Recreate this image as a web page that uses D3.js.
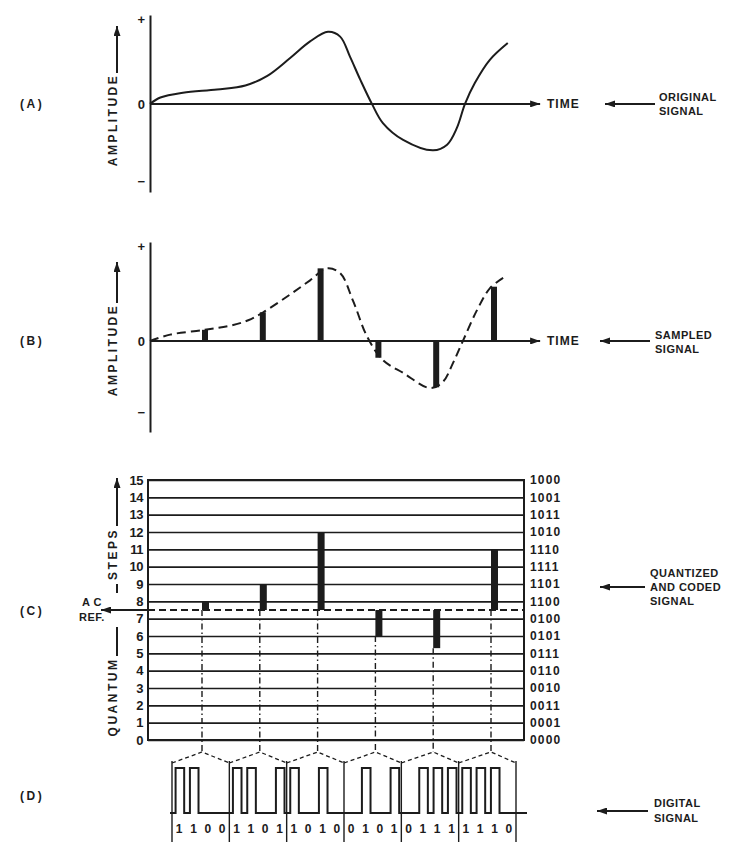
<!DOCTYPE html>
<html>
<head>
<meta charset="utf-8">
<script src="https://cdn.jsdelivr.net/npm/d3@7"></script>
<style>
body { margin: 0; background: #fff; }
svg text { font-family: "Liberation Sans", Arial, sans-serif; font-weight: bold; fill: #1c1c1c; }
</style>
</head>
<body>
<div id="chart"></div>
<script>
// original signal (A): time in sample periods, amplitude -1..1
let origT = [0.10, 0.28, 0.67, 1.26, 1.75, 2.13, 2.52, 2.87, 3.18, 3.39, 3.56, 3.74, 3.94, 4.13, 4.48, 5.00, 5.24, 5.41, 5.55, 5.72, 5.98, 6.29];
let origA = [0, 0.08, 0.14, 0.18, 0.23, 0.35, 0.57, 0.78, 0.90, 0.84, 0.59, 0.30, 0, -0.24, -0.45, -0.58, -0.51, -0.30, 0, 0.26, 0.55, 0.76];

// dashed envelope in (B)
let envT = [0.10, 0.45, 1.05, 1.54, 1.80, 2.06, 2.52, 2.87, 3.16, 3.39, 3.61, 3.86, 4.13, 4.48, 4.95, 5.17, 5.34, 5.52, 5.76, 5.98, 6.21];
let envA = [0, 0.08, 0.14, 0.20, 0.26, 0.36, 0.58, 0.76, 0.91, 0.85, 0.51, 0.05, -0.24, -0.40, -0.59, -0.51, -0.28, 0.01, 0.39, 0.66, 0.79];

// samples
let sampleT = [1, 2, 3, 4, 5, 6];
let sampleA = [0.14, 0.36, 0.91, -0.21, -0.58, 0.68];

// quantized steps (C)
let quantSteps = [8, 9, 12, 6, 5.3, 11];
let acRef = 7.5;
let stepTicks = d3.range(0, 16);
let codeLabels = ["0000", "0001", "0011", "0010", "0110", "0111", "0101", "0100",
                  "1100", "1101", "1111", "1110", "1010", "1011", "1001", "1000"];

// digital words (D)
let words = ["1100", "1101", "1010", "0101", "0111", "1110"];

let ampTickText = ["+", "0", "\u2212"];
let ampTicksA = [1.05, 0, -0.97];
let ampTicksB = [1.18, 0, -0.89];

let ink = "#1c1c1c";

let svg = d3.select("#chart").append("svg")
    .attr("width", 750)
    .attr("height", 842);

svg.append("defs").append("marker")
    .attr("id", "arr")
    .attr("viewBox", "0 0 10 7")
    .attr("refX", 10).attr("refY", 3.5)
    .attr("markerWidth", 10).attr("markerHeight", 7)
    .attr("markerUnits", "userSpaceOnUse")
    .attr("orient", "auto")
  .append("path")
    .attr("d", "M0,0L10,3.5L0,7z")
    .attr("fill", ink);

let x = d3.scaleLinear().domain([0, 6]).range([144.2, 491]);
let timeEnd = 6.85;

let line = function(x1, y1, x2, y2, w, arrow) {
    let l = svg.append("line")
        .attr("x1", x1).attr("y1", y1).attr("x2", x2).attr("y2", y2)
        .attr("stroke", ink).attr("stroke-width", w || 2);
    if (arrow) l.attr("marker-end", "url(#arr)");
    return l;
}

let label = function(tx, ty, str, size, ls, anchor) {
    return svg.append("text")
        .attr("x", tx).attr("y", ty)
        .attr("text-anchor", anchor || "start")
        .style("font-size", (size || 11) + "px")
        .style("letter-spacing", (ls || 0.5) + "px")
        .text(str);
}

let vlabel = function(cx, cy, str) {
    svg.append("text")
        .attr("transform", "translate(" + (cx + 4) + "," + cy + ") rotate(-90)")
        .attr("text-anchor", "middle")
        .style("font-size", "12px")
        .style("letter-spacing", "2.5px")
        .text(str);
}

let ampAxis = function(y, vals) {
    let g = svg.append("g").attr("transform", "translate(150,0)");
    g.call(d3.axisLeft(y).tickValues(vals).tickSize(0).tickPadding(5)
        .tickFormat(function(d, i) { return ampTickText[i]; }));
    g.select(".domain").attr("stroke", ink).attr("stroke-width", 2);
    g.selectAll("text").style("font-size", "13px");
}

// ---------- (A) original signal
let yA = d3.scaleLinear().domain([-1.1, 1.11]).range([192, 15]);
ampAxis(yA, ampTicksA);
line(150, yA(0), x(timeEnd), yA(0), 2, true);

let curveA = origT.map(function(t, i) { return {t: t, a: origA[i]}; });
svg.append("path")
    .datum(curveA)
    .attr("fill", "none")
    .attr("stroke", ink)
    .attr("stroke-width", 2)
    .attr("d", d3.line().x(d => x(d.t)).y(d => yA(d.a)).curve(d3.curveCatmullRom.alpha(0.5)));

label(20, yA(0) + 4, "(A)", 12, 2.5);
vlabel(113, 120, "AMPLITUDE");
line(117, 73, 117, 26, 2, true);
label(547, yA(0) + 4, "TIME", 12, 1);
line(655, yA(0), 605, yA(0), 2, true);
label(659, 101, "ORIGINAL", 11, 0.5);
label(659, 115, "SIGNAL", 11, 0.5);

// ---------- (B) sampled signal
let yB = d3.scaleLinear().domain([-1.14, 1.24]).range([432, 242]);
ampAxis(yB, ampTicksB);
line(150, yB(0), x(timeEnd), yB(0), 2, true);

let curveB = envT.map(function(t, i) { return {t: t, a: envA[i]}; });
svg.append("path")
    .datum(curveB)
    .attr("fill", "none")
    .attr("stroke", ink)
    .attr("stroke-width", 2)
    .attr("stroke-dasharray", "9,5")
    .attr("d", d3.line().x(d => x(d.t)).y(d => yB(d.a)).curve(d3.curveCatmullRom.alpha(0.5)));

svg.selectAll(".samp")
    .data(sampleT)
    .enter()
    .append("rect")
        .attr("class", "samp")
        .attr("x", d => x(d))
        .attr("width", 6)
        .attr("y", (d, i) => yB(Math.max(sampleA[i], 0)))
        .attr("height", (d, i) => Math.abs(yB(sampleA[i]) - yB(0)))
        .attr("fill", ink);

label(20, yB(0) + 4, "(B)", 12, 2.5);
vlabel(113, 350, "AMPLITUDE");
line(117, 303, 117, 262, 2, true);
label(547, yB(0) + 4, "TIME", 12, 1);
line(650, yB(0), 600, yB(0), 2, true);
label(655, 339, "SAMPLED", 11, 0.5);
label(655, 353, "SIGNAL", 11, 0.5);

// ---------- (C) quantized and coded
let yC = d3.scaleLinear().domain([0, 15]).range([740, 480]);
let boxL = 148, boxR = 524;

let gl = svg.append("g").attr("transform", "translate(" + boxL + ",0)");
gl.call(d3.axisLeft(yC).tickValues(stepTicks).tickSize(-(boxR - boxL)).tickPadding(5));
gl.select(".domain").remove();
gl.selectAll("line").attr("stroke", ink).attr("stroke-width", 1.6);
gl.selectAll("text").style("font-size", "13px").style("letter-spacing", "-0.5px");

let gr = svg.append("g").attr("transform", "translate(" + boxR + ",0)");
gr.call(d3.axisRight(yC).tickValues(stepTicks).tickSize(0).tickPadding(6)
    .tickFormat(d => codeLabels[d]));
gr.select(".domain").remove();
gr.selectAll("text").style("font-size", "12px").style("letter-spacing", "1.2px");

svg.append("rect")
    .attr("x", boxL).attr("y", yC(15))
    .attr("width", boxR - boxL).attr("height", yC(0) - yC(15))
    .attr("fill", "none").attr("stroke", ink).attr("stroke-width", 2);

// AC reference
line(boxL, yC(acRef), boxR, yC(acRef), 2).attr("stroke-dasharray", "7,4");
line(boxL, yC(acRef), 101, yC(acRef), 2, true);

// sample drop lines down to (D)
svg.selectAll(".drop")
    .data(sampleT)
    .enter()
    .append("line")
        .attr("class", "drop")
        .attr("x1", d => x(d)).attr("x2", d => x(d))
        .attr("y1", (d, i) => yC(Math.min(quantSteps[i], acRef)))
        .attr("y2", 752)
        .attr("stroke", ink)
        .attr("stroke-width", 1.4)
        .attr("stroke-dasharray", "6,3,1.5,3");

svg.selectAll(".qbar")
    .data(sampleT)
    .enter()
    .append("rect")
        .attr("class", "qbar")
        .attr("x", d => x(d))
        .attr("width", 7)
        .attr("y", (d, i) => yC(Math.max(quantSteps[i], acRef)))
        .attr("height", (d, i) => Math.abs(yC(quantSteps[i]) - yC(acRef)))
        .attr("fill", ink);

label(20, yC(acRef) + 5, "(C)", 12, 2.5);
label(92, 606, "A C", 11, 0, "middle");
label(92, 621, "REF.", 11, 0, "middle");
vlabel(113, 554, "STEPS");
line(117, 593, 117, 584, 2);
line(117, 526, 117, 478, 2, true);
vlabel(113, 697, "QUANTUM");
line(117, 656, 117, 627, 2);
line(645, 587, 600, 587, 2, true);
label(650, 577, "QUANTIZED", 11, 0.5);
label(650, 591, "AND CODED", 11, 0.5);
label(650, 605, "SIGNAL", 11, 0.5);

// ---------- (D) digital signal
let xD = d3.scaleBand().domain(words).range([172, 516]);
let baseY = 813, highY = 768;
let bw = xD.bandwidth() / 4;

// word separators
let seps = words.map(w => xD(w)).concat([xD.range()[1]]);
svg.selectAll(".sep")
    .data(seps)
    .enter()
    .append("line")
        .attr("class", "sep")
        .attr("x1", d => d).attr("x2", d => d)
        .attr("y1", 761).attr("y2", 842)
        .attr("stroke", ink).attr("stroke-width", 1.4);

// dashed carets from sample lines to the word edges
svg.selectAll(".caret")
    .data(words)
    .enter()
    .append("path")
        .attr("class", "caret")
        .attr("d", (w, i) => d3.line()([[xD(w), 763], [x(sampleT[i]), 752], [xD(w) + xD.bandwidth(), 763]]))
        .attr("fill", "none")
        .attr("stroke", ink)
        .attr("stroke-width", 1.3)
        .attr("stroke-dasharray", "4,3");

let pts = [[170, baseY]];
words.forEach(function(w) {
    let s = xD(w);
    w.split("").forEach(function(b, i) {
        if (b == "1") {
            let a = s + i * bw + 0.25 * bw, e = s + i * bw + 0.85 * bw;
            pts.push([a, baseY], [a, highY], [e, highY], [e, baseY]);
        }
        svg.append("text")
            .attr("x", s + (i + 0.5) * bw)
            .attr("y", 833)
            .attr("text-anchor", "middle")
            .style("font-size", "12px")
            .text(b);
    });
});
pts.push([527, baseY]);
svg.append("path")
    .attr("d", d3.line()(pts))
    .attr("fill", "none")
    .attr("stroke", ink)
    .attr("stroke-width", 2)
    .attr("stroke-linejoin", "miter");

label(20, 800, "(D)", 12, 2.5);
line(648, 811, 597, 811, 2, true);
label(654, 807, "DIGITAL", 11, 0.5);
label(654, 822, "SIGNAL", 11, 0.5);
</script>
</body>
</html>
